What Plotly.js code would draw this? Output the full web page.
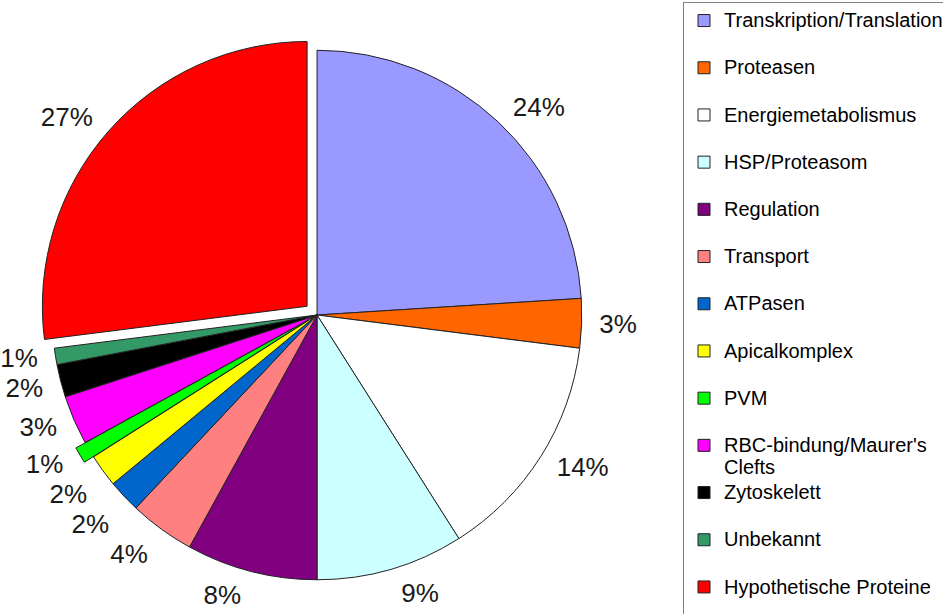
<!DOCTYPE html>
<html>
<head>
<meta charset="utf-8">
<script src="https://cdn.plot.ly/plotly-3.0.1.min.js"></script>
<style>
  html, body { margin: 0; padding: 0; background: #ffffff; }
  #chart { width: 943px; height: 614px; }
  /* the reference has no leader lines from the percentage labels */
  #chart path.textline { display: none !important; }
</style>
</head>
<body>
<div id="chart"></div>
<script>
// ---- data ----
const categories = [
  "Transkription/Translation",
  "Proteasen",
  "Energiemetabolismus",
  "HSP/Proteasom",
  "Regulation",
  "Transport",
  "ATPasen",
  "Apicalkomplex",
  "PVM",
  "RBC-bindung/Maurer's<br>Clefts",
  "Zytoskelett",
  "Unbekannt",
  "Hypothetische Proteine"
];
const shares = [24, 3, 14, 9, 8, 4, 2, 2, 1, 3, 2, 1, 27];

// ---- styles ----
const sliceColors = [
  "#9999ff", "#ff6600", "#ffffff", "#ccffff", "#800080", "#ff8080", "#0066cc",
  "#ffff00", "#00ff00", "#ff00ff", "#000000", "#339966", "#ff0000"
];
const pulledOut = { "PVM": 0.04, "Hypothetische Proteine": 0.05 };
const slicePull = categories.map(c => pulledOut[c] || 0);

const FONT = 'Arial, "Liberation Sans", sans-serif';

// legend labels: visible line at 20px plus a spacer line, so entries are spaced like the reference
const legendLabels = categories.map(c => {
  const parts = c.split("<br>").map(p => '<span style="font-size:20px">' + p + '</span>');
  if (parts.length === 1) parts.push("\u00a0");
  return parts.join("<br>");
});

// the visible pie
const pieTrace = {
  type: "pie",
  labels: legendLabels,
  values: shares,
  sort: false,
  direction: "clockwise",
  rotation: 0,
  pull: slicePull,
  marker: { colors: sliceColors, line: { color: "#222222", width: 1 } },
  textinfo: "none",
  hoverinfo: "label+percent",
  domain: { x: [0.0414, 0.631], y: [0.0342, 0.9397] },
  showlegend: true
};

// same data on a slightly wider, transparent ring: carries the percentage labels
// so they sit a little further away from the pie, as in the reference
const labelTrace = {
  type: "pie",
  labels: legendLabels,
  values: shares,
  sort: false,
  direction: "clockwise",
  rotation: 0,
  pull: slicePull,
  marker: { colors: categories.map(() => "rgba(0,0,0,0)"), line: { width: 0 } },
  textinfo: "percent",
  textposition: "outside",
  outsidetextfont: { family: FONT, size: 26, color: "#1a1a1a" },
  hoverinfo: "skip",
  domain: { x: [0.02996, 0.64236], y: [0.01669, 0.95725] },
  showlegend: false
};

const layout = {
  width: 943,
  height: 614,
  margin: { l: 0, r: 0, t: 0, b: 0, autoexpand: false },
  paper_bgcolor: "#ffffff",
  plot_bgcolor: "#ffffff",
  font: { family: FONT, color: "#000000" },
  showlegend: true,
  legend: {
    x: 683 / 943, xanchor: "left",
    y: 1 - 2 / 614, yanchor: "top",
    bgcolor: "#ffffff",
    bordercolor: "#808080",
    borderwidth: 1,
    valign: "top",
    maxheight: 700,
    font: { family: FONT, size: 17, color: "#000000" }
  }
};

Plotly.newPlot("chart", [pieTrace, labelTrace], layout, { displayModeBar: false, staticPlot: true });
</script>
</body>
</html>
